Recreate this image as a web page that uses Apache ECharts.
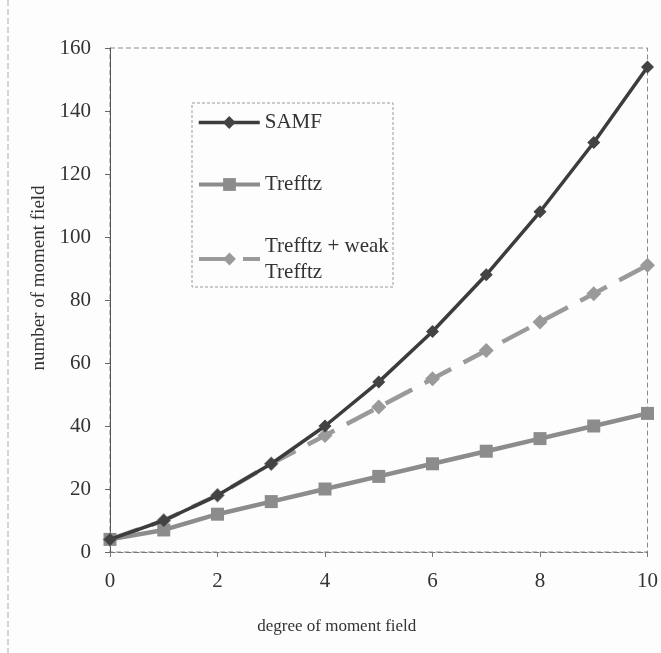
<!DOCTYPE html>
<html>
<head>
<meta charset="utf-8">
<script src="https://cdn.jsdelivr.net/npm/echarts@6/dist/echarts.min.js"></script>
<style>
  html, body { margin: 0; padding: 0; background: #fdfdfd; }
  #main { width: 661px; height: 653px; }
</style>
</head>
<body>
<div id="main"></div>
<script>
// 数据
var degrees = [0, 1, 2, 3, 4, 5, 6, 7, 8, 9, 10];
var samf = [4, 10, 18, 28, 40, 54, 70, 88, 108, 130, 154];
var trefftz = [4, 7, 12, 16, 20, 24, 28, 32, 36, 40, 44];
var trefftzWeak = [4, 10, 18, 28, 37, 46, 55, 64, 73, 82, 91];
var xTicks = [0, 2, 4, 6, 8, 10];
var yTicks = [0, 20, 40, 60, 80, 100, 120, 140, 160];

function pairs(vals) {
	return degrees.map(function (d, i) { return [d, vals[i]]; });
}

var myChart = echarts.init(document.getElementById('main'));
var serif = '"Liberation Serif", "DejaVu Serif", serif';
var legendText = { fontFamily: serif, fontSize: 21, color: '#333' };

// 每个图例项单独放置
function legendAt(name, top, lineWidth, extra) {
	return {
		orient: 'vertical',
		left: 192,
		top: top,
		itemWidth: 61,
		itemHeight: 16,
		lineStyle: { width: lineWidth },
		textStyle: Object.assign({}, legendText, extra || {}),
		formatter: function (n) {
			return n === 'Trefftz + weak Trefftz' ? 'Trefftz + weak\nTrefftz' : n;
		},
		data: [name]
	};
}

option = {
	backgroundColor: '#fdfdfd',
	animation: false,
	textStyle: { fontFamily: serif },
	grid: {
		left: 110, right: 11, top: 48, bottom: 101,
		show: true,
		borderColor: '#8a8a8a',
		borderWidth: 1,
		borderType: [5, 3]
	},
	legend: [
		legendAt('SAMF', 107, 3.5),
		legendAt('Trefftz', 169, 4),
		legendAt('Trefftz + weak Trefftz', 215, 4, { lineHeight: 26, padding: [26, 0, 0, 0] })
	],
	graphic: [
		{
			type: 'rect',
			shape: { x: 192, y: 103, width: 201, height: 184 },
			style: { fill: 'none', stroke: '#999', lineWidth: 1, lineDash: [3, 2] },
			z: 0
		},
		{
			type: 'line',
			shape: { x1: 8, y1: 0, x2: 8, y2: 653 },
			style: { stroke: '#aaa', lineWidth: 1, lineDash: [6, 3] }
		}
	],
	xAxis: {
		type: 'value',
		min: 0, max: 10, interval: 2,
		name: 'degree of moment field',
		nameLocation: 'middle',
		nameGap: 66,
		nameTextStyle: { fontFamily: serif, fontSize: 17, color: '#333', padding: [0, 84, 0, 0] },
		axisLine: { lineStyle: { color: '#777', type: [5, 3] } },
		axisTick: { show: true, length: 5, lineStyle: { color: '#777' } },
		axisLabel: {
			fontFamily: serif, fontSize: 21, color: '#333', margin: 19,
			formatter: function (v) { return xTicks.indexOf(v) >= 0 ? String(v) : ''; }
		},
		splitLine: { show: false }
	},
	yAxis: {
		type: 'value',
		min: 0, max: 160, interval: 20,
		name: 'number of moment field',
		nameLocation: 'middle',
		nameGap: 61,
		nameTextStyle: { fontFamily: serif, fontSize: 19, color: '#333', padding: [0, 0, 0, 44] },
		axisLine: { show: true, lineStyle: { color: '#555', width: 1 } },
		axisTick: { show: true, length: 5, lineStyle: { color: '#666' } },
		axisLabel: {
			fontFamily: serif, fontSize: 21, color: '#333', margin: 19,
			formatter: function (v) { return yTicks.indexOf(v) >= 0 ? String(v) : ''; }
		},
		splitLine: { show: false }
	},
	series: [
		{
			name: 'SAMF',
			type: 'line',
			data: pairs(samf),
			symbol: 'diamond',
			symbolSize: 13,
			itemStyle: { color: '#434343' },
			lineStyle: { color: '#3c3c3c', width: 3.5 },
			z: 4
		},
		{
			name: 'Trefftz',
			type: 'line',
			data: pairs(trefftz),
			symbol: 'rect',
			symbolSize: 13,
			itemStyle: { color: '#8c8c8c' },
			lineStyle: { color: '#8c8c8c', width: 4.5 },
			z: 3
		},
		{
			name: 'Trefftz + weak Trefftz',
			type: 'line',
			data: pairs(trefftzWeak),
			symbol: 'diamond',
			symbolSize: 15,
			itemStyle: { color: '#9a9a9a' },
			lineStyle: { color: '#9a9a9a', width: 4.5, type: [30, 14] },
			z: 2
		}
	]
};
myChart.setOption(option);
window.onresize = myChart.resize;
</script>
</body>
</html>
